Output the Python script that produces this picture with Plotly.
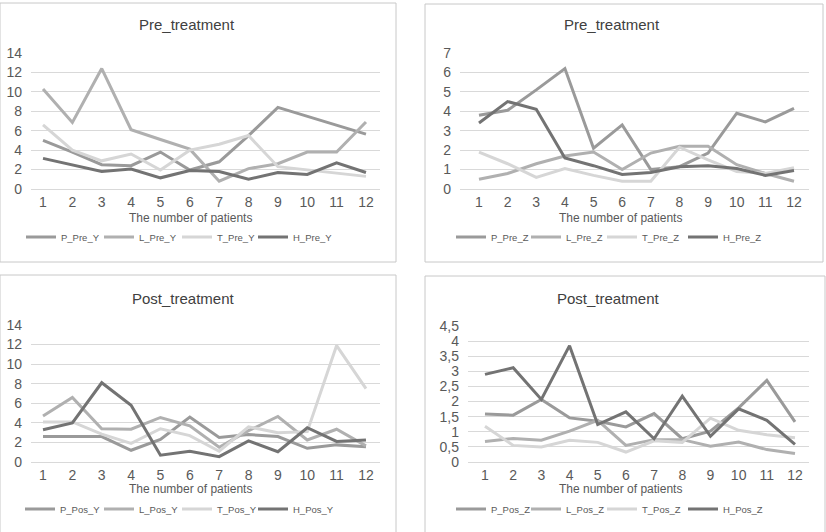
import plotly.graph_objects as go

W, H = 826, 532
patients = list(range(1, 13))
x_tick_labels = [str(i) for i in patients]

# ---- data ----
P_Pre_Y = [5.0, 3.8, 2.5, 2.4, 3.8, 1.95, 2.8, 5.5, 8.4, 7.5, 6.6, 5.65]
L_Pre_Y = [10.3, 6.85, 12.4, 6.1, 5.1, 4.1, 0.8, 2.1, 2.6, 3.8, 3.8, 6.9]
T_Pre_Y = [6.6, 4.0, 2.9, 3.6, 1.95, 4.0, 4.6, 5.5, 2.3, 1.95, 1.6, 1.3]
H_Pre_Y = [3.15, 2.5, 1.8, 2.05, 1.15, 1.9, 1.8, 1.0, 1.7, 1.5, 2.7, 1.7]

P_Pre_Z = [3.8, 4.05, 5.1, 6.2, 2.1, 3.3, 1.0, 1.15, 1.85, 3.9, 3.45, 4.15]
L_Pre_Z = [0.5, 0.8, 1.3, 1.7, 1.9, 1.0, 1.85, 2.2, 2.2, 1.25, 0.8, 0.4]
T_Pre_Z = [1.9, 1.3, 0.6, 1.05, 0.7, 0.4, 0.4, 2.15, 1.5, 0.9, 0.8, 1.1]
H_Pre_Z = [3.4, 4.5, 4.1, 1.6, 1.2, 0.75, 0.85, 1.15, 1.2, 1.05, 0.7, 0.95]

P_Pos_Y = [2.6, 2.6, 2.6, 1.2, 2.3, 4.6, 2.5, 2.8, 2.6, 1.4, 1.75, 1.55]
L_Pos_Y = [4.7, 6.6, 3.4, 3.35, 4.55, 3.7, 1.5, 3.2, 4.65, 2.25, 3.35, 1.65]
T_Pos_Y = [4.1, 4.1, 2.85, 1.9, 3.4, 2.7, 1.1, 3.6, 3.0, 3.1, 11.9, 7.5]
H_Pos_Y = [3.3, 4.0, 8.1, 5.8, 0.7, 1.1, 0.55, 2.15, 1.05, 3.5, 2.1, 2.25]

P_Pos_Z = [1.59, 1.55, 2.07, 1.46, 1.35, 1.16, 1.6, 0.77, 1.02, 1.79, 2.7, 1.33]
L_Pos_Z = [0.68, 0.78, 0.72, 1.02, 1.38, 0.55, 0.74, 0.74, 0.52, 0.66, 0.41, 0.28]
T_Pos_Z = [1.18, 0.55, 0.5, 0.72, 0.65, 0.33, 0.7, 0.65, 1.45, 1.05, 0.9, 0.8]
H_Pos_Z = [2.9, 3.12, 2.07, 3.85, 1.24, 1.66, 0.77, 2.18, 0.85, 1.76, 1.38, 0.58]

y_ticks_14 = [0, 2, 4, 6, 8, 10, 12, 14]
y_ticks_7 = [0, 1, 2, 3, 4, 5, 6, 7]
y_ticks_45 = [0, 0.5, 1, 1.5, 2, 2.5, 3, 3.5, 4, 4.5]
y_ticktext_45 = ["0", "0,5", "1", "1,5", "2", "2,5", "3", "3,5", "4", "4,5"]

panels = [
    dict(title="Pre_treatment", names=["P_Pre_Y", "L_Pre_Y", "T_Pre_Y", "H_Pre_Y"],
         series=[P_Pre_Y, L_Pre_Y, T_Pre_Y, H_Pre_Y]),
    dict(title="Pre_treatment", names=["P_Pre_Z", "L_Pre_Z", "T_Pre_Z", "H_Pre_Z"],
         series=[P_Pre_Z, L_Pre_Z, T_Pre_Z, H_Pre_Z]),
    dict(title="Post_treatment", names=["P_Pos_Y", "L_Pos_Y", "T_Pos_Y", "H_Pos_Y"],
         series=[P_Pos_Y, L_Pos_Y, T_Pos_Y, H_Pos_Y]),
    dict(title="Post_treatment", names=["P_Pos_Z", "L_Pos_Z", "T_Pos_Z", "H_Pos_Z"],
         series=[P_Pos_Z, L_Pos_Z, T_Pos_Z, H_Pos_Z]),
]

colors = ["#9a9a9a", "#b0b0b0", "#d6d6d6", "#737373"]

# layout geometry (pixels)
geo = [
    dict(xd=(31, 380), yd=(53, 189), xr=(0.591, 12.478), yr=(0, 14), yt=y_ticks_14, ytt=None,
         box=(0, 3, 396, 262), title=(187, 25), xtitle=(190, 218), legy=237,
         legtext=[63, 141, 219, 295]),
    dict(xd=(460, 809), yd=(53, 189), xr=(0.337, 12.524), yr=(0, 7), yt=y_ticks_7, ytt=None,
         box=(425, 4, 823, 262), title=(612, 25), xtitle=(620, 218), legy=237,
         legtext=[493, 568, 644, 725]),
    dict(xd=(31, 380), yd=(325, 462), xr=(0.591, 12.478), yr=(0, 14), yt=y_ticks_14, ytt=None,
         box=(0, 275, 396, 540), title=(183, 298), xtitle=(190, 489), legy=509,
         legtext=[62, 141, 219, 295]),
    dict(xd=(468, 809), yd=(326, 462), xr=(0.397, 12.497), yr=(0, 4.5), yt=y_ticks_45, ytt=y_ticktext_45,
         box=(425, 276, 825, 540), title=(608, 298), xtitle=(620, 489), legy=509,
         legtext=[493, 568, 644, 725]),
]

FONT = "Liberation Sans"
fig = go.Figure()
layout = dict(width=W, height=H, margin=dict(l=0, r=0, t=0, b=0, autoexpand=False),
              paper_bgcolor="white", plot_bgcolor="white", showlegend=True,
              font=dict(family=FONT, color="#595959"), shapes=[], annotations=[])

k = 0
for i, (p, g) in enumerate(zip(panels, geo)):
    n = "" if i == 0 else str(i + 1)
    for j, (name, vals, c) in enumerate(zip(p["names"], p["series"], colors)):
        k += 1
        leg = "legend" if k == 1 else "legend" + str(k)
        fig.add_trace(go.Scatter(x=patients, y=vals, mode="lines", name=name,
                                 line=dict(color=c, width=3), xaxis="x" + n, yaxis="y" + n,
                                 legend=leg, showlegend=True))
        layout[leg] = dict(orientation="h", x=(g["legtext"][j] - 42) / W, y=1 - g["legy"] / H,
                           xanchor="left", yanchor="middle",
                           font=dict(size=9.5, color="#595959"),
                           bgcolor="rgba(0,0,0,0)", itemwidth=30)
    layout["xaxis" + n] = dict(domain=[g["xd"][0] / W, g["xd"][1] / W], range=list(g["xr"]),
                               anchor="y" + n, tickvals=patients, ticktext=x_tick_labels,
                               showgrid=False, zeroline=False, showline=True,
                               linecolor="#d9d9d9", linewidth=1, ticks="",
                               tickfont=dict(size=14, color="#595959"))
    yax = dict(domain=[1 - g["yd"][1] / H, 1 - g["yd"][0] / H], range=list(g["yr"]),
               anchor="x" + n, tickvals=g["yt"], showgrid=True, gridcolor="#d9d9d9",
               gridwidth=1, zeroline=False, showline=False, ticks="",
               ticklabelstandoff=8, tickfont=dict(size=14, color="#595959"))
    if g["ytt"]:
        yax["ticktext"] = g["ytt"]
    layout["yaxis" + n] = yax
    bx = g["box"]
    layout["shapes"].append(dict(type="rect", xref="paper", yref="paper",
                                 x0=bx[0] / W, x1=bx[2] / W, y0=1 - bx[3] / H, y1=1 - bx[1] / H,
                                 line=dict(color="#c8c8c8", width=1), fillcolor="rgba(0,0,0,0)",
                                 layer="below"))
    layout["annotations"].append(dict(text=p["title"], xref="paper", yref="paper",
                                      x=g["title"][0] / W, y=1 - g["title"][1] / H,
                                      xanchor="center", yanchor="middle", showarrow=False,
                                      font=dict(size=15, color="#404040")))
    layout["annotations"].append(dict(text="The number of patients", xref="paper", yref="paper",
                                      x=g["xtitle"][0] / W, y=1 - g["xtitle"][1] / H,
                                      xanchor="center", yanchor="middle", showarrow=False,
                                      font=dict(size=12, color="#595959")))

fig.update_layout(**layout)
fig.write_html("out.html")
